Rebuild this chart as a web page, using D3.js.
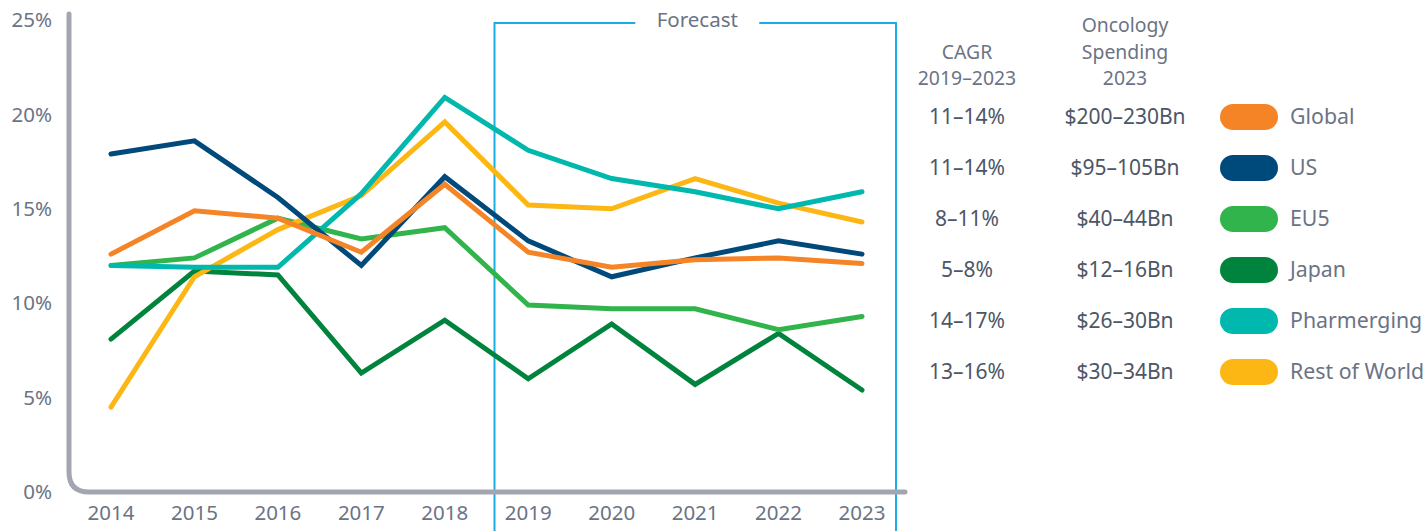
<!DOCTYPE html>
<html>
<head>
<meta charset="utf-8">
<script src="https://cdn.jsdelivr.net/npm/d3@7"></script>
<style>
  html, body { margin: 0; padding: 0; background: #fff; }
  svg { display: block; font-family: "Noto Sans", "Open Sans", sans-serif; }
</style>
</head>
<body>
<svg id="chart" width="1428" height="531"></svg>
<script>
// Oncology spending growth by region, 2014–2023 (2019 onward forecast)
const years = [2014, 2015, 2016, 2017, 2018, 2019, 2020, 2021, 2022, 2023];
const yTicks = [0, 5, 10, 15, 20, 25];
const forecastStart = 2019;

const regions = ["Global", "US", "EU5", "Japan", "Pharmerging", "Rest of World"];
const colors = ["#f58426", "#00497b", "#31b44b", "#00843d", "#00b8ad", "#fdb714"];
const cagr = ["11–14%", "11–14%", "8–11%", "5–8%", "14–17%", "13–16%"];
const spending = ["$200–230Bn", "$95–105Bn", "$40–44Bn", "$12–16Bn", "$26–30Bn", "$30–34Bn"];

const globalGrowth      = [12.6, 14.9, 14.5, 12.7, 16.3, 12.7, 11.9, 12.3, 12.4, 12.1];
const usGrowth          = [17.9, 18.6, 15.6, 12.0, 16.7, 13.3, 11.4, 12.4, 13.3, 12.6];
const eu5Growth         = [12.0, 12.4, 14.5, 13.4, 14.0, 9.9, 9.7, 9.7, 8.6, 9.3];
const japanGrowth       = [8.1, 11.7, 11.5, 6.3, 9.1, 6.0, 8.9, 5.7, 8.4, 5.4];
const pharmergingGrowth = [12.0, 11.9, 11.9, 15.8, 20.9, 18.1, 16.6, 15.9, 15.0, 15.9];
const rowGrowth         = [4.5, 11.4, 13.9, 15.7, 19.6, 15.2, 15.0, 16.6, 15.3, 14.3];

const seriesValues = [globalGrowth, usGrowth, eu5Growth, japanGrowth, pharmergingGrowth, rowGrowth];
// drawing order (first is bottom-most)
const drawOrder = [3, 2, 5, 4, 1, 0];

const svg = d3.select("#chart");
const labelColor = "#6b7385";
const valueColor = "#4d5666";
const axisColor = "#a3a6b0";

const x = d3.scalePoint().domain(years).range([111, 862]);
const y = d3.scaleLinear().domain([0, 25]).range([492, 20]);

// y tick labels
svg.append("g").selectAll("text").data(yTicks).join("text")
  .attr("x", 52).attr("y", d => y(d)).attr("dy", "0.35em")
  .attr("text-anchor", "end").attr("font-size", 20.5).attr("fill", labelColor)
  .text(d => d + "%");

// x tick labels
svg.append("g").selectAll("text").data(years).join("text")
  .attr("x", d => x(d)).attr("y", 513).attr("dy", "0.35em")
  .attr("text-anchor", "middle").attr("font-size", 20.5).attr("fill", labelColor)
  .text(d => d);

// forecast frame with title gap
const fx0 = (x(forecastStart - 1) + x(forecastStart)) / 2 + 8;
const fx1 = x(years[years.length - 1]) + 34;
const fTop = 23;
const fTitleX = (fx0 + fx1) / 2 + 2;
const gapHalf = 62;
svg.append("path")
  .attr("d", `M${fTitleX - gapHalf},${fTop} H${fx0} V531 M${fTitleX + gapHalf},${fTop} H${fx1} V531`)
  .attr("fill", "none").attr("stroke", "#1aaee5").attr("stroke-width", 2);
svg.append("text")
  .attr("x", fTitleX).attr("y", fTop - 3).attr("dy", "0.35em")
  .attr("text-anchor", "middle").attr("font-size", 20.5).attr("fill", labelColor)
  .text("Forecast");

// L-shaped axis with rounded corner
const ax = 69, ay = y(0), r = 20;
svg.append("path")
  .attr("d", `M${ax},14 V${ay - r} Q${ax},${ay} ${ax + r},${ay} H905`)
  .attr("fill", "none").attr("stroke", axisColor).attr("stroke-width", 5)
  .attr("stroke-linecap", "round");

// series lines
const line = d3.line().x((d, i) => x(years[i])).y(d => y(d));
svg.append("g").selectAll("path").data(drawOrder).join("path")
  .attr("d", i => line(seriesValues[i]))
  .attr("fill", "none").attr("stroke", i => colors[i])
  .attr("stroke-width", 5).attr("stroke-linejoin", "miter").attr("stroke-linecap", "round");

// table headers (stacked lines, bottom lines aligned)
const cagrX = 967, spendX = 1125;
const fs = 21, hfs = 19.4, lh = 26.5, headBottom = 78.5;
svg.append("text").attr("x", cagrX).attr("text-anchor", "middle")
  .attr("font-size", hfs).attr("fill", labelColor)
  .selectAll("tspan").data(["CAGR", "2019–2023"]).join("tspan")
  .attr("x", cagrX).attr("y", (d, i) => headBottom - (1 - i) * lh).attr("dy", "0.35em").text(d => d);
svg.append("text").attr("x", spendX).attr("text-anchor", "middle")
  .attr("font-size", hfs).attr("fill", labelColor)
  .selectAll("tspan").data(["Oncology", "Spending", "2023"]).join("tspan")
  .attr("x", spendX).attr("y", (d, i) => headBottom - (2 - i) * lh).attr("dy", "0.35em").text(d => d);

// table rows with legend swatches
const rowY = d3.scaleLinear().domain([0, 5]).range([117, 372]);
const rows = svg.append("g").selectAll("g").data(regions).join("g")
  .attr("transform", (d, i) => `translate(0,${rowY(i)})`);
rows.append("text").attr("x", cagrX).attr("dy", "0.35em").attr("text-anchor", "middle")
  .attr("font-size", fs).attr("fill", valueColor).text((d, i) => cagr[i]);
rows.append("text").attr("x", spendX).attr("dy", "0.35em").attr("text-anchor", "middle")
  .attr("font-size", fs).attr("fill", valueColor).text((d, i) => spending[i]);
rows.append("rect").attr("x", 1220).attr("y", -13).attr("width", 58).attr("height", 26)
  .attr("rx", 13).attr("fill", (d, i) => colors[i]);
rows.append("text").attr("x", 1290).attr("dy", "0.35em")
  .attr("font-size", 21.3).attr("fill", labelColor).text(d => d);
</script>
</body>
</html>
